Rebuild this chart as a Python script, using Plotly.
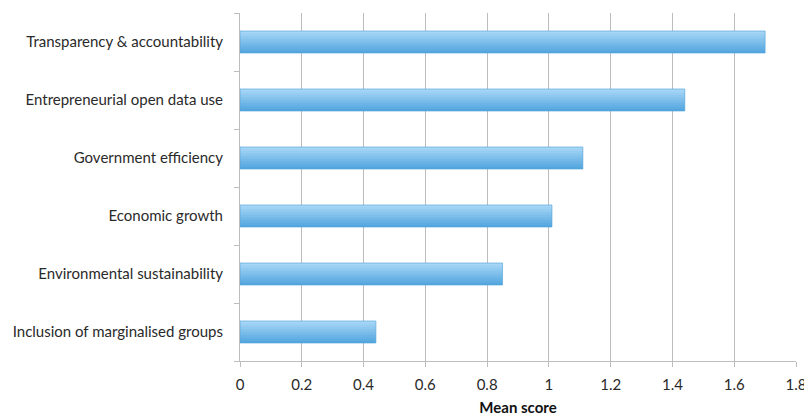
import plotly.graph_objects as go

categories = [
    "Inclusion of marginalised groups",
    "Environmental sustainability",
    "Economic growth",
    "Government efficiency",
    "Entrepreneurial open data use",
    "Transparency & accountability",
]
mean_scores = [0.44, 0.85, 1.01, 1.11, 1.44, 1.70]
x_ticks = [0, 0.2, 0.4, 0.6, 0.8, 1, 1.2, 1.4, 1.6, 1.8]
x_tick_labels = ["0", "0.2", "0.4", "0.6", "0.8", "1", "1.2", "1.4", "1.6", "1.8"]

BAR_W = 0.38
N_STRIPS = 11
bottom_rgb = (84, 166, 223)
top_rgb = (166, 214, 246)

fig = go.Figure()
for i in range(N_STRIPS):
    t = i / (N_STRIPS - 1)
    c = tuple(round(b + (tp - b) * t) for b, tp in zip(bottom_rgb, top_rgb))
    fig.add_trace(go.Bar(
        y=categories, x=mean_scores, orientation="h",
        marker=dict(color="rgb(%d,%d,%d)" % c, line=dict(width=0)),
        width=BAR_W / N_STRIPS, offset=-BAR_W / 2 + i * BAR_W / N_STRIPS,
        hoverinfo="skip",
    ))
fig.add_trace(go.Bar(
    y=categories, x=mean_scores, orientation="h",
    marker=dict(color="rgba(0,0,0,0)", line=dict(color="rgba(80,160,215,0.6)", width=1)),
    width=BAR_W, offset=-BAR_W / 2, hoverinfo="x+y",
))

fig.update_layout(
    width=804, height=417,
    margin=dict(l=240, r=8, t=13, b=56, autoexpand=False),
    paper_bgcolor="white", plot_bgcolor="white",
    showlegend=False, barmode="overlay",
    font=dict(family="Lato, Open Sans, sans-serif", size=15, color="#2a2a2a"),
    xaxis=dict(
        range=[0, 1.8], tickvals=x_ticks, ticktext=x_tick_labels,
        showgrid=True, gridcolor="#bdbdbd", gridwidth=1,
        showline=True, linecolor="#bdbdbd", linewidth=1,
        ticks="outside", ticklen=5, tickcolor="#bdbdbd",
        zeroline=False, ticklabeloverflow="allow", ticklabelstandoff=5,
        automargin=False,
        title=dict(text="<b>Mean score</b>", font=dict(size=15, color="#111111"), standoff=10),
    ),
    yaxis=dict(
        showgrid=False, showline=True, linecolor="#bdbdbd", linewidth=1,
        ticks="outside", ticklen=5, tickcolor="#bdbdbd", tickson="boundaries",
        zeroline=False, ticklabelstandoff=13, automargin=False,
    ),
)

fig.write_html("out.html")
